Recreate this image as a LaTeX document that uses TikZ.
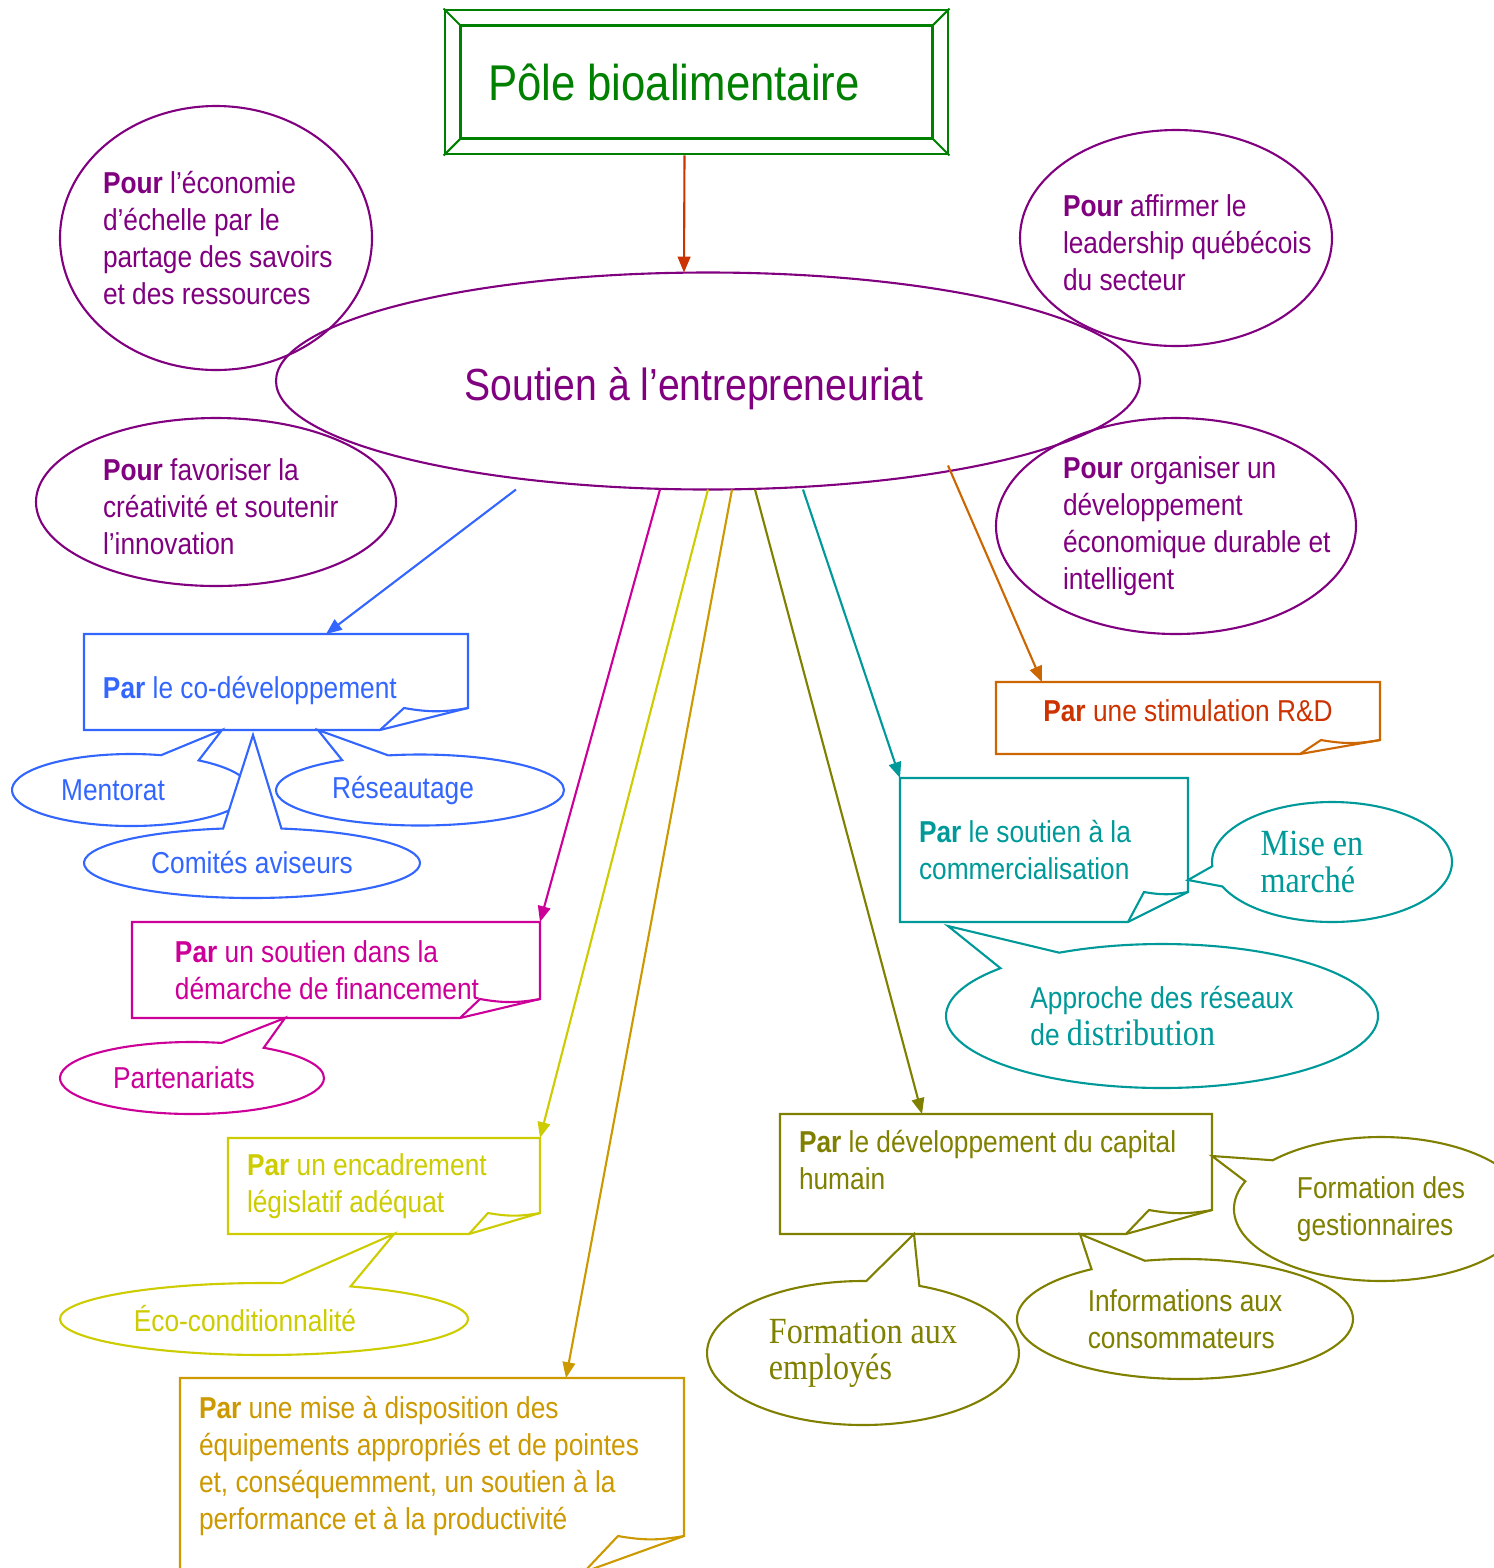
\documentclass[tikz,border=0pt]{standalone}
\usepackage{fontspec}
\setmainfont[FakeStretch=0.87]{Liberation Sans}
\newfontfamily\timesf[FakeStretch=0.87]{Liberation Serif}
\usetikzlibrary{shapes.geometric}
\usetikzlibrary{shapes.callouts}
\usetikzlibrary{arrows.meta}

\definecolor{cpurple}{RGB}{128,0,128}
\definecolor{cgreen}{RGB}{0,128,0}
\definecolor{crust}{RGB}{204,51,0}
\definecolor{cblue}{RGB}{51,102,255}
\definecolor{cmagenta}{RGB}{204,0,153}
\definecolor{cyellow}{RGB}{204,204,0}
\definecolor{cgold}{RGB}{204,153,0}
\definecolor{colive}{RGB}{128,128,0}
\definecolor{cteal}{RGB}{0,153,153}
\definecolor{corange}{RGB}{204,102,0}

\newcommand{\tms}{\timesf\fontsize{10.5}{10.3}\selectfont}
% box with folded corner: color, node, fold dx, fold dy, flap offset
\newcommand{\plie}[5]{%
  \draw[#1] (#2.north west) -- (#2.north east) -- ([yshift=#4]#2.south east)
    -- ([xshift=-#3]#2.south east) -- (#2.south west) -- cycle;
  \draw[#1] ([xshift=-#3]#2.south east) -- ([xshift=-#3+#5,yshift=#4]#2.south east)
    to[bend right=10] ([yshift=#4]#2.south east);}

\begin{document}
\begin{tikzpicture}[x=0.1mm,y=-0.1mm,>={Triangle[length=4.5pt,width=3.6pt]},
	line width=0.6pt,
	every node/.style={font=\fontsize{8.6}{10.5}\selectfont},
	pour/.style={ellipse,draw=cpurple,inner sep=0pt,outer sep=0pt},
	pourtxt/.style={text=cpurple,text width=28mm,align=flush left,inner sep=0pt,xshift=2.7mm},
	parbox/.style={rectangle,anchor=north west,align=flush left,inner ysep=0pt,outer sep=0pt},
	bulle/.style={ellipse callout,fill=white,inner sep=0pt,outer sep=0pt,callout pointer arc=20}]
	
	\useasboundingbox (0,0) rectangle (1493,1568);
	
	% titre
	\node[draw=cgreen,line width=0.8pt,minimum width=50.3mm,minimum height=14.4mm,
	text width=41.7mm,inner xsep=4.3mm,align=flush left,text=cgreen,
	font=\fontsize{14.3}{17}\selectfont] (pole) at (696.5,82) {Pôle bioalimentaire};
	\draw[cgreen,line width=0.8pt] ([shift={(1.7mm,-1.7mm)}]pole.north west) rectangle ([shift={(-1.7mm,1.7mm)}]pole.south east);
	\foreach \c/\sx/\sy in {north west/1/-1,north east/-1/-1,south east/-1/1,south west/1/1}
	\draw[cgreen] (pole.\c) -- ([shift={(\sx*1.7mm,\sy*1.7mm)}]pole.\c);
	
	\node[pour,minimum width=86.4mm,minimum height=21.7mm,
	label={[text=cpurple,font=\fontsize{12.8}{15}\selectfont,xshift=-1.4mm,yshift=-0.8mm]center:{Soutien à l’entrepreneuriat}}] (sout) at (708,381) {};
	\draw[->,crust] ([xshift=-1.2mm]pole.south) -- ([xshift=-2.4mm]sout.north);
	
	% les « Pour »
	\node[pour,minimum width=31.2mm,minimum height=26.4mm,
	label={[pourtxt]center:{\textbf{Pour} l’économie\\d’échelle par le\\partage des savoirs\\et des ressources}}] (echelle) at (216,238) {};
	\node[pour,minimum width=31.2mm,minimum height=21.6mm,
	label={[pourtxt,yshift=-0.5mm]center:{\textbf{Pour} affirmer le\\leadership québécois\\du secteur}}] (leader) at (1176,238) {};
	\node[pour,minimum width=36mm,minimum height=16.8mm,
	label={[pourtxt,yshift=-0.5mm]center:{\textbf{Pour} favoriser la\\créativité et soutenir\\l’innovation}}] (creativ) at (216,502) {};
	\node[pour,minimum width=36mm,minimum height=21.6mm,
	label={[pourtxt]center:{\textbf{Pour} organiser un\\développement\\économique durable et\\intelligent}}] (durable) at (1176,526) {};
	
	% les « Par »
	\node[parbox,text=cblue,minimum width=38.4mm,minimum height=9.6mm,inner xsep=1.9mm,text width=34.6mm] (codev) at (84,634) {\mbox{}\\[0.6pt]\textbf{Par} le co-développement};
	\plie{cblue}{codev}{8.8mm}{2.2mm}{2.4mm}
	\node[parbox,align=flush center,text=crust,minimum width=38.4mm,minimum height=7.2mm,inner xsep=1.9mm,text width=34.6mm] (rd) at (996,682) {\textbf{Par} une stimulation R\&D\\[-6.5pt]\mbox{}};
	\plie{corange}{rd}{8mm}{1.4mm}{2.1mm}
	\node[parbox,text=cteal,minimum width=28.8mm,minimum height=14.4mm,inner xsep=1.9mm,text width=25mm] (comm) at (900,778) {\textbf{Par} le soutien à la\\commercialisation};
	\plie{cteal}{comm}{6mm}{3mm}{1.6mm}
	\node[parbox,text=cmagenta,minimum width=40.8mm,minimum height=9.6mm,inner xsep=4.3mm,text width=32.2mm] (financ) at (132,922) {\textbf{Par} un soutien dans la\\démarche de financement};
	\plie{cmagenta}{financ}{8mm}{1.9mm}{2mm}
	\node[parbox,text=cyellow,minimum width=31.2mm,minimum height=9.6mm,inner xsep=1.9mm,text width=27.4mm] (legis) at (228,1138) {\textbf{Par} un encadrement\\législatif adéquat};
	\plie{cyellow}{legis}{7.1mm}{2.1mm}{1.9mm}
	\node[parbox,text=colive,minimum width=43.2mm,minimum height=12mm,inner xsep=1.9mm,text width=39.4mm] (capital) at (780,1114) {\textbf{Par} le développement du capital\\humain\\[-2.5pt]\mbox{}};
	\plie{colive}{capital}{8.6mm}{2.4mm}{2.3mm}
	\node[parbox,text=cgold,minimum width=50.4mm,minimum height=19.4mm,inner xsep=1.9mm,text width=46.6mm] (equip) at (180,1378) {\textbf{Par} une mise à disposition des\\équipements appropriés et de pointes\\et, conséquemment, un soutien à la\\performance et à la productivité\\[-3.5pt]\mbox{}};
	\plie{cgold}{equip}{10mm}{3.6mm}{3.4mm}
	
	% bulles
	\node[bulle,draw=cblue,minimum width=23.8mm,minimum height=7.2mm,
	callout absolute pointer={([xshift=-5.4mm]codev.south)},
	label={[text=cblue,xshift=-1.8mm]center:Mentorat}] (mentorat) at (131,790) {};
	\node[bulle,draw=cblue,minimum width=28.8mm,minimum height=7.1mm,
	callout absolute pointer={([xshift=4.2mm]codev.south)},
	label={[text=cblue,xshift=-1.7mm]center:Réseautage}] (reseau) at (420,790) {};
	\node[bulle,draw=cblue,text=cblue,minimum width=33.6mm,minimum height=7mm,
	callout absolute pointer={([shift={(-2.3mm,-0.5mm)}]codev.south)}] (comites) at (252,863) {Comités aviseurs};
	\node[bulle,draw=cmagenta,minimum width=26.4mm,minimum height=7.2mm,
	callout absolute pointer={([xshift=-5.1mm]financ.south)},
	label={[text=cmagenta,xshift=-0.8mm]center:Partenariats}] (parten) at (192,1078) {};
	\node[bulle,draw=cyellow,minimum width=40.8mm,minimum height=7.2mm,
	callout absolute pointer={([xshift=1mm]legis.south)},
	label={[text=cyellow,xshift=-1.9mm]center:Éco-conditionnalité}] (eco) at (264,1319) {};
	\node[bulle,draw=cteal,minimum width=24mm,minimum height=12mm,
	callout absolute pointer={([yshift=-3mm]comm.east)},
	label={[text=cteal,font=\tms,align=left,xshift=-2mm]center:{Mise en\\marché}}] (marche) at (1332,862) {};
	\node[bulle,draw=cteal,text=cteal,align=left,minimum width=43.2mm,minimum height=14.4mm,
	callout absolute pointer={([shift={(-9.6mm,-0.4mm)}]comm.south)}] (distrib) at (1162,1016) {Approche des réseaux\\de {\tms distribution}};
	\node[bulle,draw=colive,text=colive,align=left,minimum width=29.4mm,minimum height=14.4mm,
	callout absolute pointer={([yshift=1.8mm]capital.east)}] (gestion) at (1381,1209) {Formation des\\gestionnaires};
	\node[bulle,draw=colive,text=colive,align=left,minimum width=33.6mm,minimum height=12mm,
	callout absolute pointer={([xshift=8.4mm]capital.south)}] (consom) at (1185,1319) {Informations aux\\consommateurs};
	\node[bulle,draw=colive,text=colive,font=\tms,align=left,minimum width=31.2mm,minimum height=14.4mm,
	callout absolute pointer={([xshift=-8.2mm]capital.south)}] (employes) at (863,1353) {Formation aux\\employés};
	
	% fleches
	\draw[->,cblue] ([xshift=-19.2mm]sout.south) -- ([xshift=5mm]codev.north);
	\draw[->,cmagenta] ([xshift=-4.8mm]sout.south) -- (financ.north east);
	\draw[->,cyellow] (sout.south) -- (legis.north east);
	\draw[->,cgold] ([xshift=2.4mm]sout.south) -- ([xshift=13.4mm]equip.north);
	\draw[->,colive] ([xshift=4.7mm]sout.south) -- ([xshift=-7.4mm]capital.north);
	\draw[->,cteal] ([xshift=9.5mm]sout.south) -- (comm.north west);
	\draw[->,corange] ([xshift=24mm,yshift=2.4mm]sout.south) -- ([xshift=-14.6mm]rd.north);
\end{tikzpicture}
\end{document}
